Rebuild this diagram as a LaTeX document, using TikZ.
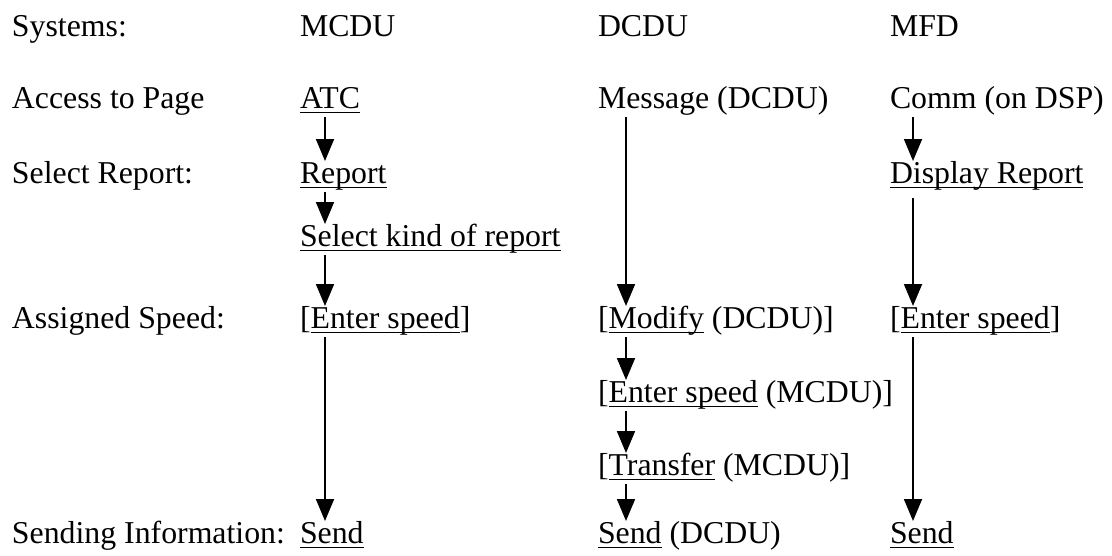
\documentclass[tikz,border=0pt]{standalone}
\usepackage{fontspec}
\setmainfont{Liberation Serif}
\usetikzlibrary{arrows.meta}
\newcommand\wul[1]{\setbox0\hbox{#1}\rlap{\rule[-5pt]{\wd0}{1.5pt}}\box0\relax}
\tikzset{
  lbl/.style={anchor=base west,inner sep=0pt,outer sep=0pt,text height=22pt,text depth=7pt,
    font=\fontsize{31.8}{38}\selectfont},
  arr/.style={line width=1.8pt,-{Triangle[length=22pt,width=18pt]},shorten <=2pt}
}
\begin{document}
\begin{tikzpicture}[x=1pt,y=1pt]
\useasboundingbox (0,0) rectangle (1112,-555);
% column x for arrows
\coordinate (mcx) at (325,0);
\coordinate (dcx) at (626,0);
\coordinate (mfx) at (913,0);
% row 1
\node[lbl] (sys) at (12,-36) {Systems:};
\node[lbl] (hm) at (300,-36) {MCDU};
\node[lbl] (hd) at (598,-36) {DCDU};
\node[lbl] (hf) at (890,-36) {MFD};
% row 2
\node[lbl] (acc) at (12,-108) {Access to Page};
\node[lbl] (atc) at (300,-108) {\wul{ATC}};
\node[lbl] (msg) at (598,-108) {Message (DCDU)};
\node[lbl] (comm) at (890,-108) {Comm (on DSP)};
% row 3
\node[lbl] (selr) at (12,-183) {Select Report:};
\node[lbl] (rep) at (300,-183) {\wul{Report}};
\node[lbl] (disp) at (890,-183) {\wul{Display Report}};
% row 4
\node[lbl] (kind) at (300,-246) {\wul{Select kind of report}};
% row 5
\node[lbl] (asg) at (12,-328) {Assigned Speed:};
\node[lbl] (ensm) at (300,-328) {[\wul{Enter speed}]};
\node[lbl] (mod) at (598,-328) {[\wul{Modify} (DCDU)]};
\node[lbl] (ensf) at (890,-328) {[\wul{Enter speed}]};
% row 6
\node[lbl] (ensd) at (598,-402) {[\wul{Enter speed} (MCDU)]};
% row 7
\node[lbl] (trf) at (598,-475) {[\wul{Transfer} (MCDU)]};
% row 8
\node[lbl] (sinf) at (12,-543) {Sending Information:};
\node[lbl] (sendm) at (300,-543) {\wul{Send}};
\node[lbl] (sendd) at (598,-543) {\wul{Send} (DCDU)};
\node[lbl] (sendf) at (890,-543) {\wul{Send}};
% MCDU arrows
\draw[arr] (atc.south -| mcx) -- (rep.north -| mcx);
\draw[arr] (rep.south -| mcx) -- (kind.north -| mcx);
\draw[arr] (kind.south -| mcx) -- (ensm.north -| mcx);
\draw[arr] (ensm.south -| mcx) -- (sendm.north -| mcx);
% DCDU arrows
\draw[arr] (msg.south -| dcx) -- (mod.north -| dcx);
\draw[arr] (mod.south -| dcx) -- (ensd.north -| dcx);
\draw[arr] (ensd.south -| dcx) -- (trf.north -| dcx);
\draw[arr] (trf.south -| dcx) -- (sendd.north -| dcx);
% MFD arrows
\draw[arr] (comm.south -| mfx) -- (disp.north -| mfx);
\draw[arr,shorten <=8pt] (disp.south -| mfx) -- (ensf.north -| mfx);
\draw[arr] (ensf.south -| mfx) -- (sendf.north -| mfx);
\end{tikzpicture}
\end{document}
